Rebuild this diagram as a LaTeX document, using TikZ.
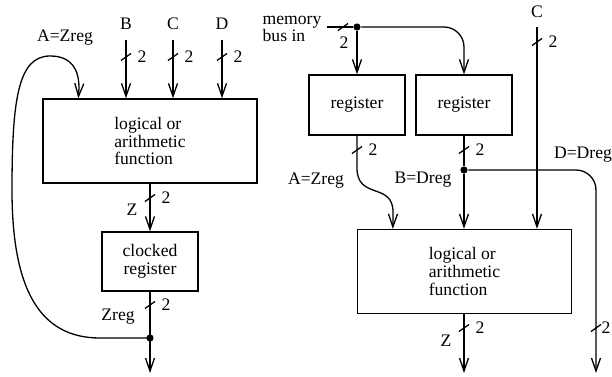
\documentclass[tikz,border=0pt]{standalone}
\usepackage{fontspec}
\setmainfont{Liberation Serif}
\usetikzlibrary{arrows.meta}

\begin{document}
\begin{tikzpicture}[x=0.5pt,y=-0.5pt,
  font=\fontsize{8.8}{8.8}\selectfont,
  line width=0.65pt,
  >={Straight Barb[length=6.5pt,width=4.5pt]},
  block/.style={draw,minimum width=48pt,minimum height=30pt,inner sep=0pt,align=center},
  func/.style={draw,minimum width=107pt,minimum height=42pt,inner sep=0pt,align=left},
  dot/.style={circle,fill,inner sep=0pt,minimum size=3.6pt},
  busslash/.pic={\draw (-5,3.5) -- (5,-3.5);},
  buswidth/.pic={\draw (-5,3.5) -- (5,-3.5); \node at (16,0) {2};}]

\useasboundingbox (0,0) rectangle (612,376);

% left: function block fed back through a clocked register
\node[func] (lf) at (150,141) {logical or\\arithmetic\\function};
\node[block,minimum height=29.5pt] (creg) at (150,261.5) {clocked\\register};

\node (B) at (126,24) {B};
\node (C) at (173,24) {C};
\node (D) at (222,24) {D};
\foreach \n/\x in {b/126,c/173,d/222}{
  \coordinate (\n-in) at (\x,40);
  \draw[->] (\n-in) -- (\n-in |- lf.north);
  \pic at (\x,57) {buswidth};
}

\draw[->] (lf.south) -- (creg.north);
\pic at (150,198) {buswidth};
\node (zl) at (132,210) {Z};

\node[dot] (ldot) at (150,338) {};
\coordinate (l-out) at (150,373);
\draw[->] (creg.south) -- (l-out);
\pic at (150,305) {buswidth};
\node (zregl) at (118,317) {Zreg};

% feedback A=Zreg
\node (azl) at (65,38) {A=Zreg};
\draw[->] (ldot.center) -- (100,338)
  .. controls (40,338) and (12,290) .. (12,190)
  .. controls (12,100) and (18,56) .. (50,56)
  .. controls (72,56) and (79,70) .. (79,88)
  -- ([xshift=18pt]lf.north west);

% right: two registers loaded from the memory bus
\node[align=left] (mem) at (292,29) {memory\\bus in};
\coordinate (bus-in) at (327,27);
\node[dot] (mdot) at (357,27) {};
\draw (bus-in) -- (mdot);
\pic at (343,27) {busslash};
\node (m2) at (344,43) {2};

\node[block] (reg1) at (357,105) {register};
\node[block] (reg2) at (464,105) {register};
\draw[->] (mdot) -- (reg1.north);
\draw[->,rounded corners=10pt] (mdot) -| (reg2.north);

\node[func] (rf) at (464.5,271.5) {logical or\\arithmetic\\function};

% register 1 -> A
\draw[->] (reg1.south) -- (357,168)
  .. controls (357,200) and (393,182) .. (393,212)
  -- ([xshift=18pt]rf.north west);
\pic at (357,150) {buswidth};
\node (azr) at (316,181) {A=Zreg};

% register 2 -> B and D
\node[dot] (rdot) at (464,170) {};
\draw (reg2.south) -- (rdot);
\draw[->] (rdot) -- (rdot |- rf.north);
\pic at (464,150) {buswidth};
\node (bdr) at (423,180) {B=Dreg};
\coordinate (d-out) at (596,373);
\draw[->,rounded corners=10pt] (rdot) -| (d-out);
\pic at (596,328) {busslash};
\node (d2) at (606,328) {2};
\node (ddr) at (583,155) {D=Dreg};

% C straight in
\node (cr) at (537,12) {C};
\coordinate (c-in) at (537,27);
\draw[->] (c-in) -- (c-in |- rf.north);
\pic at (537,42) {buswidth};

% output Z
\coordinate (r-out) at (464,373);
\draw[->] (r-out |- rf.south) -- (r-out);
\pic at (464,328) {buswidth};
\node (zr) at (446,341) {Z};

\end{tikzpicture}
\end{document}
